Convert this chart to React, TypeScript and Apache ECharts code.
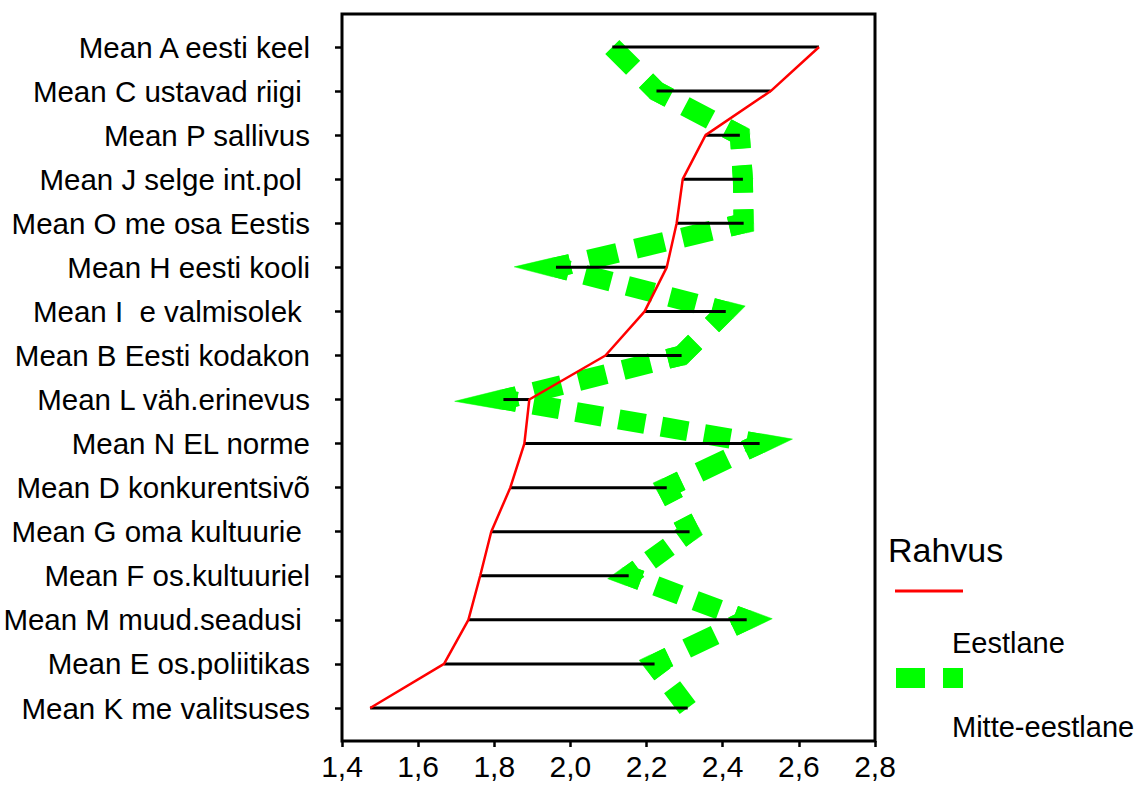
import React, { useEffect, useRef } from "react";
import * as echarts from "echarts";

const categories = [
  "Mean A eesti keel",
  "Mean C ustavad riigi ",
  "Mean P sallivus",
  "Mean J selge int.pol ",
  "Mean O me osa Eestis",
  "Mean H eesti kooli",
  "Mean I  e valmisolek ",
  "Mean B Eesti kodakon",
  "Mean L väh.erinevus",
  "Mean N EL norme",
  "Mean D konkurentsivõ",
  "Mean G oma kultuurie ",
  "Mean F os.kultuuriel",
  "Mean M muud.seadusi ",
  "Mean E os.poliitikas",
  "Mean K me valitsuses",
];

const eestlane = [2.653, 2.526, 2.355, 2.295, 2.279, 2.253, 2.195, 2.092, 1.892, 1.879, 1.842, 1.792, 1.763, 1.732, 1.668, 1.474];
const mitteEestlane = [2.11, 2.226, 2.445, 2.453, 2.455, 1.962, 2.408, 2.292, 1.824, 2.497, 2.253, 2.313, 2.153, 2.463, 2.221, 2.308];

const xTicks = [1.4, 1.6, 1.8, 2.0, 2.2, 2.4, 2.6, 2.8];

const FONT = "'Liberation Sans', Arial, sans-serif";
const GREEN = "#00ff00";
const DASH = 29;
const GAP = 18;
const GW = 20;
const MITER_LIMIT = 10;

function renderDashedLine(params: any, api: any) {
  const pts = mitteEestlane.map((v, i) => api.coord([v, i]));
  const children: any[] = [];
  const nSeg = pts.length - 1;
  const scales: number[] = [];
  for (let k = 0; k < nSeg; k++) {
    const a = pts[k];
    const b = pts[k + 1];
    const L = Math.hypot(b[0] - a[0], b[1] - a[1]);
    const first = k === 0;
    const last = k === nSeg - 1;
    const c = (last ? DASH : DASH / 2) - (first ? 0 : DASH / 2);
    let n = Math.round((L - c) / (DASH + GAP));
    if (n < 1 && c < DASH / 2 + 1) n = 1;
    if (n < 0) n = 0;
    const s = L / (n * (DASH + GAP) + c);
    scales.push(s);
    children.push({
      type: "line",
      shape: { x1: a[0], y1: a[1], x2: b[0], y2: b[1] },
      style: {
        stroke: GREEN,
        lineWidth: GW,
        lineDash: [DASH * s, GAP * s],
        lineDashOffset: first ? 0 : (DASH * s) / 2,
        lineCap: "butt",
      },
    });
  }
  const h = GW / 2;
  for (let k = 1; k < pts.length - 1; k++) {
    const p = pts[k];
    const a = pts[k - 1];
    const b = pts[k + 1];
    const l1 = Math.hypot(p[0] - a[0], p[1] - a[1]);
    const l2 = Math.hypot(b[0] - p[0], b[1] - p[1]);
    const u1 = [(p[0] - a[0]) / l1, (p[1] - a[1]) / l1];
    const u2 = [(b[0] - p[0]) / l2, (b[1] - p[1]) / l2];
    const e1 = (DASH * scales[k - 1]) / 2;
    const e2 = (DASH * scales[k]) / 2;
    const q1 = [p[0] - u1[0] * e1, p[1] - u1[1] * e1];
    const q2 = [p[0] + u2[0] * e2, p[1] + u2[1] * e2];
    children.push({
      type: "polyline",
      shape: { points: [q1, p, q2] },
      style: { stroke: GREEN, fill: "none", lineWidth: GW, lineJoin: "bevel", lineCap: "butt" },
    });
    const out = [u1[0] - u2[0], u1[1] - u2[1]];
    if (Math.hypot(out[0], out[1]) < 1e-3) continue;
    let n1 = [-u1[1], u1[0]];
    if (n1[0] * out[0] + n1[1] * out[1] < 0) n1 = [-n1[0], -n1[1]];
    let n2 = [-u2[1], u2[0]];
    if (n2[0] * out[0] + n2[1] * out[1] < 0) n2 = [-n2[0], -n2[1]];
    const mRaw = [n1[0] + n2[0], n1[1] + n2[1]];
    const mLen = Math.hypot(mRaw[0], mRaw[1]);
    if (mLen < 1e-6) continue;
    const m = [mRaw[0] / mLen, mRaw[1] / mLen];
    const cosv = m[0] * n1[0] + m[1] * n1[1];
    if (cosv <= 0 || 1 / cosv > MITER_LIMIT) continue;
    const d = h / cosv;
    const tip = [p[0] + m[0] * d, p[1] + m[1] * d];
    children.push({
      type: "polygon",
      shape: { points: [p, [p[0] + n1[0] * h, p[1] + n1[1] * h], tip, [p[0] + n2[0] * h, p[1] + n2[1] * h]] },
      style: { fill: GREEN, stroke: GREEN, lineWidth: 0.5 },
    });
  }
  return { type: "group", children };
}

export default function App() {
  const ref = useRef<HTMLDivElement>(null);
  useEffect(() => {
    document.body.style.margin = "0";
    const chart = echarts.init(ref.current!, null, { renderer: "svg" });
    const option: any = {
      animation: false,
      grid: { left: 342, right: 262, top: 47, bottom: 77, containLabel: false, outerBoundsMode: "none" },
      xAxis: {
        type: "value",
        min: xTicks[0],
        max: xTicks[xTicks.length - 1],
        interval: 0.2,
        offset: 33,
        axisLine: { show: false },
        axisTick: { show: true, length: 6, lineStyle: { color: "#000", width: 2.5 } },
        splitLine: { show: false },
        axisLabel: {
          color: "#000",
          fontFamily: FONT,
          fontSize: 30,
          margin: 10,
          hideOverlap: false,
          formatter: (v: number) => v.toFixed(1).replace(".", ","),
        },
      },
      yAxis: {
        type: "category",
        data: categories,
        inverse: true,
        boundaryGap: false,
        axisLine: { show: false },
        axisTick: { show: true, length: 7, alignWithLabel: true, lineStyle: { color: "#000", width: 2.5 } },
        axisLabel: { color: "#000", fontFamily: FONT, fontSize: 29.5, margin: 32, hideOverlap: false },
      },
      series: [
        {
          name: "Mitte-eestlane",
          type: "custom",
          z: 2,
          data: [[mitteEestlane[0], 0]],
          renderItem: renderDashedLine,
        },
        {
          name: "hilo",
          type: "custom",
          z: 3,
          data: eestlane.map((v, i) => [v, mitteEestlane[i], i]),
          renderItem: (params: any, api: any) => {
            const p1 = api.coord([api.value(0), api.value(2)]);
            const p2 = api.coord([api.value(1), api.value(2)]);
            return {
              type: "line",
              shape: { x1: p1[0], y1: p1[1], x2: p2[0], y2: p2[1] },
              style: { stroke: "#000", lineWidth: 3 },
            };
          },
        },
        {
          name: "Eestlane",
          type: "line",
          data: eestlane.map((v, i) => [v, categories[i]]),
          symbol: "none",
          z: 4,
          lineStyle: { color: "#ff0000", width: 2.5 },
        },
      ],
      graphic: [
        {
          type: "rect",
          shape: { x: 342, y: 14, width: 533, height: 727 },
          style: { fill: "none", stroke: "#000", lineWidth: 3 },
          z: 10,
        },
        {
          type: "text",
          x: 888,
          y: 550,
          style: { text: "Rahvus", fontSize: 34, fontFamily: FONT, fill: "#000", verticalAlign: "middle" },
        },
        {
          type: "line",
          shape: { x1: 895, y1: 591, x2: 963, y2: 591 },
          style: { stroke: "#ff0000", lineWidth: 3 },
        },
        {
          type: "text",
          x: 952,
          y: 643,
          style: { text: "Eestlane", fontSize: 29, fontFamily: FONT, fill: "#000", verticalAlign: "middle" },
        },
        {
          type: "line",
          shape: { x1: 896, y1: 678, x2: 963, y2: 678 },
          style: { stroke: GREEN, lineWidth: 20, lineDash: [29, 18] },
        },
        {
          type: "text",
          x: 952,
          y: 727,
          style: { text: "Mitte-eestlane", fontSize: 29, fontFamily: FONT, fill: "#000", verticalAlign: "middle" },
        },
      ],
    };
    chart.setOption(option);
    return () => chart.dispose();
  }, []);
  return <div ref={ref} style={{ width: 1137, height: 785 }} />;
}
